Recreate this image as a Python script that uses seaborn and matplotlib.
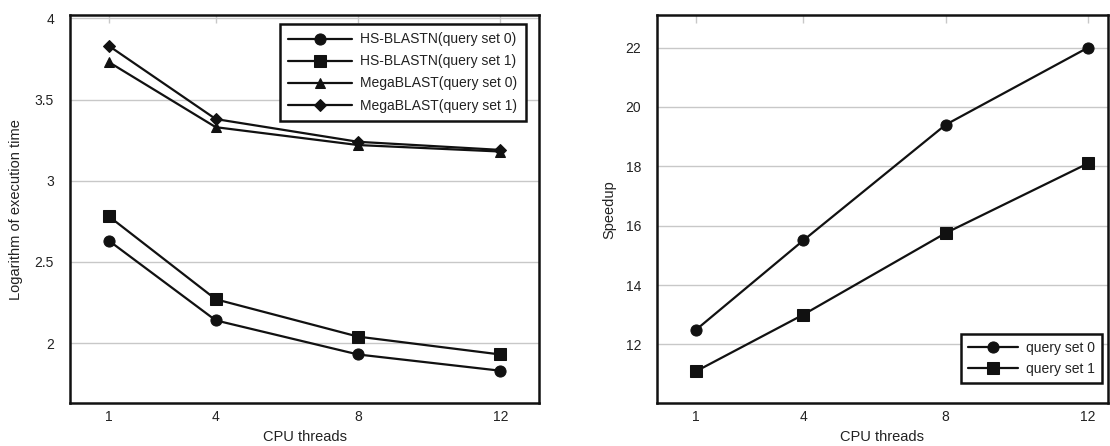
import pandas as pd
import matplotlib.pyplot as plt
import seaborn as sns

# ── Data ─────────────────────────────────────────────────────────────────────
threads = [1, 4, 8, 12]

hs_set0 = [2.63, 2.14, 1.93, 1.83]
hs_set1 = [2.78, 2.27, 2.04, 1.93]
mega_set0 = [3.73, 3.33, 3.22, 3.18]
mega_set1 = [3.83, 3.38, 3.24, 3.19]

speedup_set0 = [12.5, 15.5, 19.4, 22.0]
speedup_set1 = [11.1, 13.0, 15.75, 18.1]

left_labels = ['HS-BLASTN(query set 0)', 'HS-BLASTN(query set 1)',
               'MegaBLAST(query set 0)', 'MegaBLAST(query set 1)']
right_labels = ['query set 0', 'query set 1']

# ── Style ────────────────────────────────────────────────────────────────────
sns.set_style('white')
plt.rcParams['font.family'] = ['Liberation Sans', 'DejaVu Sans']
TXT = '#222222'
GRID = '#c8c8c8'

fig = plt.figure(figsize=(11.1, 4.46), dpi=100)
ax1 = fig.add_axes([0.063, 0.096, 0.423, 0.870])
ax2 = fig.add_axes([0.592, 0.096, 0.406, 0.870])


def style_axis(ax, ylabel, ylab_x):
    ax.grid(False)
    ax.yaxis.grid(True, color=GRID, linewidth=1.0)
    ax.set_axisbelow(True)
    for sp in ax.spines.values():
        sp.set_visible(True)
        sp.set_color('#111111')
        sp.set_linewidth(1.8)
    ax.set_xticks(threads)
    ax.tick_params(axis='x', which='both', direction='in', top=True, bottom=False,
                   labeltop=False, labelbottom=True, length=6, width=1,
                   color=GRID, labelsize=10, labelcolor=TXT, pad=5)
    ax.tick_params(axis='y', left=False, labelsize=10, labelcolor=TXT, pad=8)
    ax.set_xlabel('CPU threads', fontsize=10.5, color=TXT, va='center')
    ax.xaxis.set_label_coords(0.5, -0.088)
    ax.set_ylabel(ylabel, fontsize=10.5, color=TXT, va='center')
    ax.yaxis.set_label_coords(ylab_x, 0.5)


def style_legend(leg):
    leg.get_frame().set_edgecolor('#111111')
    leg.get_frame().set_linewidth(1.8)
    for t in leg.get_texts():
        t.set_color(TXT)


# ── Left panel ───────────────────────────────────────────────────────────────
left_series = [hs_set0, hs_set1, mega_set0, mega_set1]
left_markers = ['o', 's', '^', 'D']
left_msize = [8, 8, 7.5, 6]
for vals, lab, m, ms in zip(left_series, left_labels, left_markers, left_msize):
    sns.lineplot(x=threads, y=vals, ax=ax1, color='#111111', linewidth=1.6,
                 marker=m, markersize=ms, markeredgecolor='#111111', label=lab)

ax1.set_xlim(-0.1, 13.1)
ax1.set_ylim(1.63, 4.02)
ax1.set_yticks([2, 2.5, 3, 3.5, 4])
ax1.set_yticklabels(['2', '2.5', '3', '3.5', '4'])
style_axis(ax1, 'Logarithm of execution time', -0.115)
leg1 = ax1.legend(loc='upper right', bbox_to_anchor=(0.986, 0.995), fontsize=10,
                  frameon=True, fancybox=False, framealpha=1, handlelength=4.6,
                  borderpad=0.6, labelspacing=0.58, handletextpad=0.6)
style_legend(leg1)

# ── Right panel ──────────────────────────────────────────────────────────────
right_series = [speedup_set0, speedup_set1]
right_markers = ['o', 's']
for vals, lab, m in zip(right_series, right_labels, right_markers):
    sns.lineplot(x=threads, y=vals, ax=ax2, color='#111111', linewidth=1.6,
                 marker=m, markersize=8, markeredgecolor='#111111', label=lab)

ax2.set_xlim(-0.1, 12.55)
ax2.set_ylim(10.02, 23.09)
ax2.set_yticks([12, 14, 16, 18, 20, 22])
style_axis(ax2, 'Speedup', -0.106)
leg2 = ax2.legend(loc='lower right', bbox_to_anchor=(1.003, 0.035), fontsize=10,
                  frameon=True, fancybox=False, framealpha=1, handlelength=3.6,
                  borderpad=0.5, labelspacing=0.5, handletextpad=0.6)
style_legend(leg2)

fig.savefig('out.png', dpi=100)
